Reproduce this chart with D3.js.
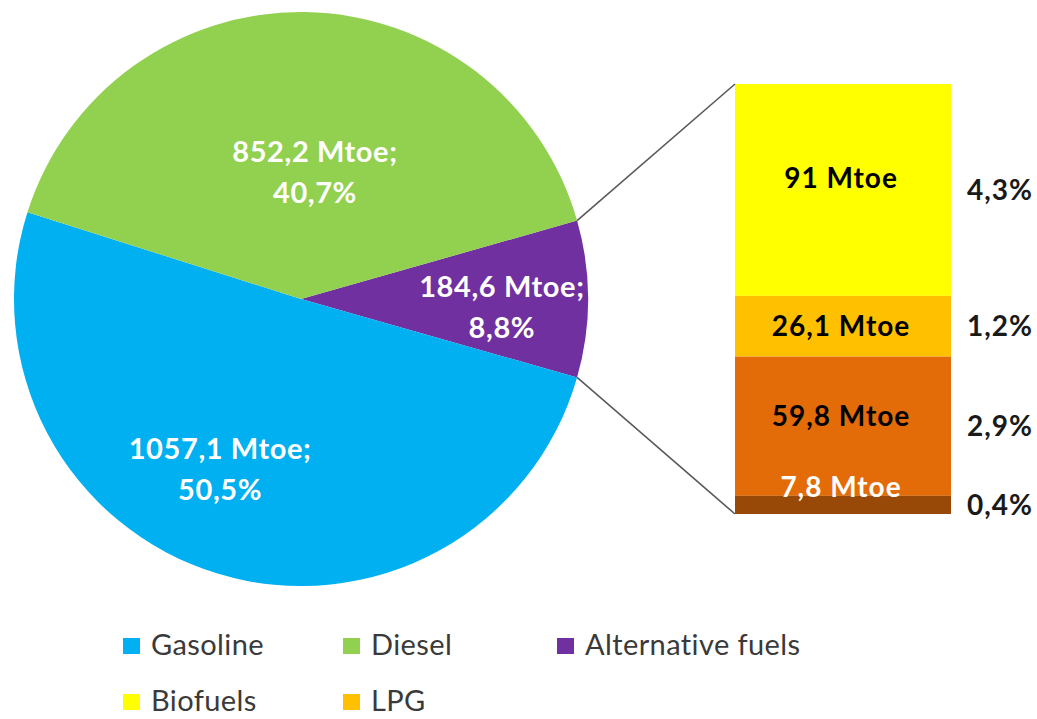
<!DOCTYPE html>
<html><head><meta charset="utf-8">
<script src="https://cdn.jsdelivr.net/npm/d3@7"></script>
<style>body{margin:0;background:#fff}svg{display:block}</style>
</head><body>
<script>
// ---- data ----
const pieCategories = ["Alternative fuels", "Gasoline", "Diesel"];
const pieValues = [184.6, 1057.1, 852.2];
const barCategories = ["Biofuels", "LPG", "Natural gas", "Electricity"];
const barValues = [91, 26.1, 59.8, 7.8];
const legendItems = ["Gasoline", "Diesel", "Alternative fuels", "Biofuels", "LPG"];

// ---- style ----
const colors = {
  "Gasoline": "#00B0F0", "Diesel": "#92D050", "Alternative fuels": "#7030A0",
  "Biofuels": "#FFFF00", "LPG": "#FFC000", "Natural gas": "#E36C09", "Electricity": "#984807"
};
const W = 1037, H = 719;
const cx = 301, cy = 299, R = 287;
const labelR = {"Alternative fuels": 0.70, "Gasoline": 0.64, "Diesel": 0.45};
const labelNudge = {"Alternative fuels": [0, 6], "Gasoline": [-28, -8], "Diesel": [12, 0]};
const fmt = v => v.toFixed(1).replace(".", ",");

const svg = d3.select("body").append("svg").attr("width", W).attr("height", H);

const total = d3.sum(pieValues);
const altShare = pieValues[0] / total;
const a0 = Math.PI / 2 - altShare * Math.PI;
const pie = d3.pie().sort(null).startAngle(a0).endAngle(a0 + 2 * Math.PI);
const pieData = pie(pieValues).map((d, i) => Object.assign(d, {cat: pieCategories[i]}));
const arc = d3.arc().innerRadius(0).outerRadius(R);
const g = svg.append("g").attr("transform", `translate(${cx},${cy})`);
g.selectAll("path").data(pieData).join("path")
  .attr("d", arc).attr("fill", d => colors[d.cat]);

// pie labels
pieData.forEach(d => {
  const lr = labelR[d.cat] * R;
  const [c0, c1] = d3.arc().innerRadius(lr).outerRadius(lr).centroid(d);
  const [nx, ny] = labelNudge[d.cat];
  const t = g.append("text").attr("text-anchor", "middle")
    .attr("font-family", "Lato, sans-serif").attr("font-weight", "bold")
    .attr("font-size", 29).attr("letter-spacing", 0.6).attr("fill", "#fff");
  t.append("tspan").attr("x", c0 + nx).attr("y", c1 + ny - 8)
    .text(`${fmt(d.data)} Mtoe;`);
  t.append("tspan").attr("x", c0 + nx).attr("y", c1 + ny + 33)
    .text(`${fmt(d.data / total * 100)}%`);
});

// bar of pie
const bx = 735, bw = 216, bTop = 84, bBot = 514;
const y = d3.scaleLinear().domain([0, d3.sum(barValues)]).range([bTop, bBot]);
let acc = 0;
const segs = barValues.map((v, i) => { const s = {cat: barCategories[i], v, y0: acc, y1: acc + v}; acc += v; return s; });
svg.selectAll("rect.seg").data(segs).join("rect").attr("class", "seg")
  .attr("x", bx).attr("width", bw)
  .attr("y", d => y(d.y0)).attr("height", d => y(d.y1) - y(d.y0))
  .attr("fill", d => colors[d.cat]);

// connectors
const alt = pieData[0];
const pt = a => [cx + R * Math.sin(a), cy - R * Math.cos(a)];
const p1 = pt(alt.startAngle), p2 = pt(alt.endAngle);
svg.append("line").attr("x1", p1[0]).attr("y1", p1[1]).attr("x2", bx).attr("y2", bTop)
  .attr("stroke", "#595959").attr("stroke-width", 1.6);
svg.append("line").attr("x1", p2[0]).attr("y1", p2[1]).attr("x2", bx).attr("y2", bBot)
  .attr("stroke", "#595959").attr("stroke-width", 1.6);

// bar labels
const inNudge = [-12, 0, -10, 0];
segs.forEach((d, i) => {
  const mid = (y(d.y0) + y(d.y1)) / 2;
  const last = i === segs.length - 1;
  svg.append("text").attr("x", bx + bw / 2 - 2)
    .attr("y", last ? y(d.y0) + 1 : mid + 10 + inNudge[i])
    .attr("text-anchor", "middle").attr("font-family", "Lato, sans-serif")
    .attr("font-weight", "bold").attr("font-size", 28).attr("letter-spacing", 1)
    .attr("fill", last ? "#fff" : "#000")
    .text(`${String(d.v).replace(".", ",")} Mtoe`);
  svg.append("text").attr("x", 1000).attr("y", mid + 10)
    .attr("text-anchor", "middle").attr("font-family", "Lato, sans-serif")
    .attr("font-weight", "bold").attr("font-size", 28).attr("letter-spacing", 1).attr("fill", "#1a1a1a")
    .text(`${fmt(d.v / total * 100)}%`);
});

// legend
const colX = [123, 343, 557], rowY = [655, 711];
legendItems.forEach((name, i) => {
  const x = colX[i % 3], yy = rowY[Math.floor(i / 3)];
  svg.append("rect").attr("x", x).attr("y", yy - 17).attr("width", 17).attr("height", 16)
    .attr("fill", colors[name]);
  svg.append("text").attr("x", x + 28).attr("y", yy)
    .attr("font-family", "Lato, sans-serif").attr("font-size", 29).attr("letter-spacing", 0.4)
    .attr("fill", "#3a3a3a")
    .text(name);
});
</script>
</body></html>
